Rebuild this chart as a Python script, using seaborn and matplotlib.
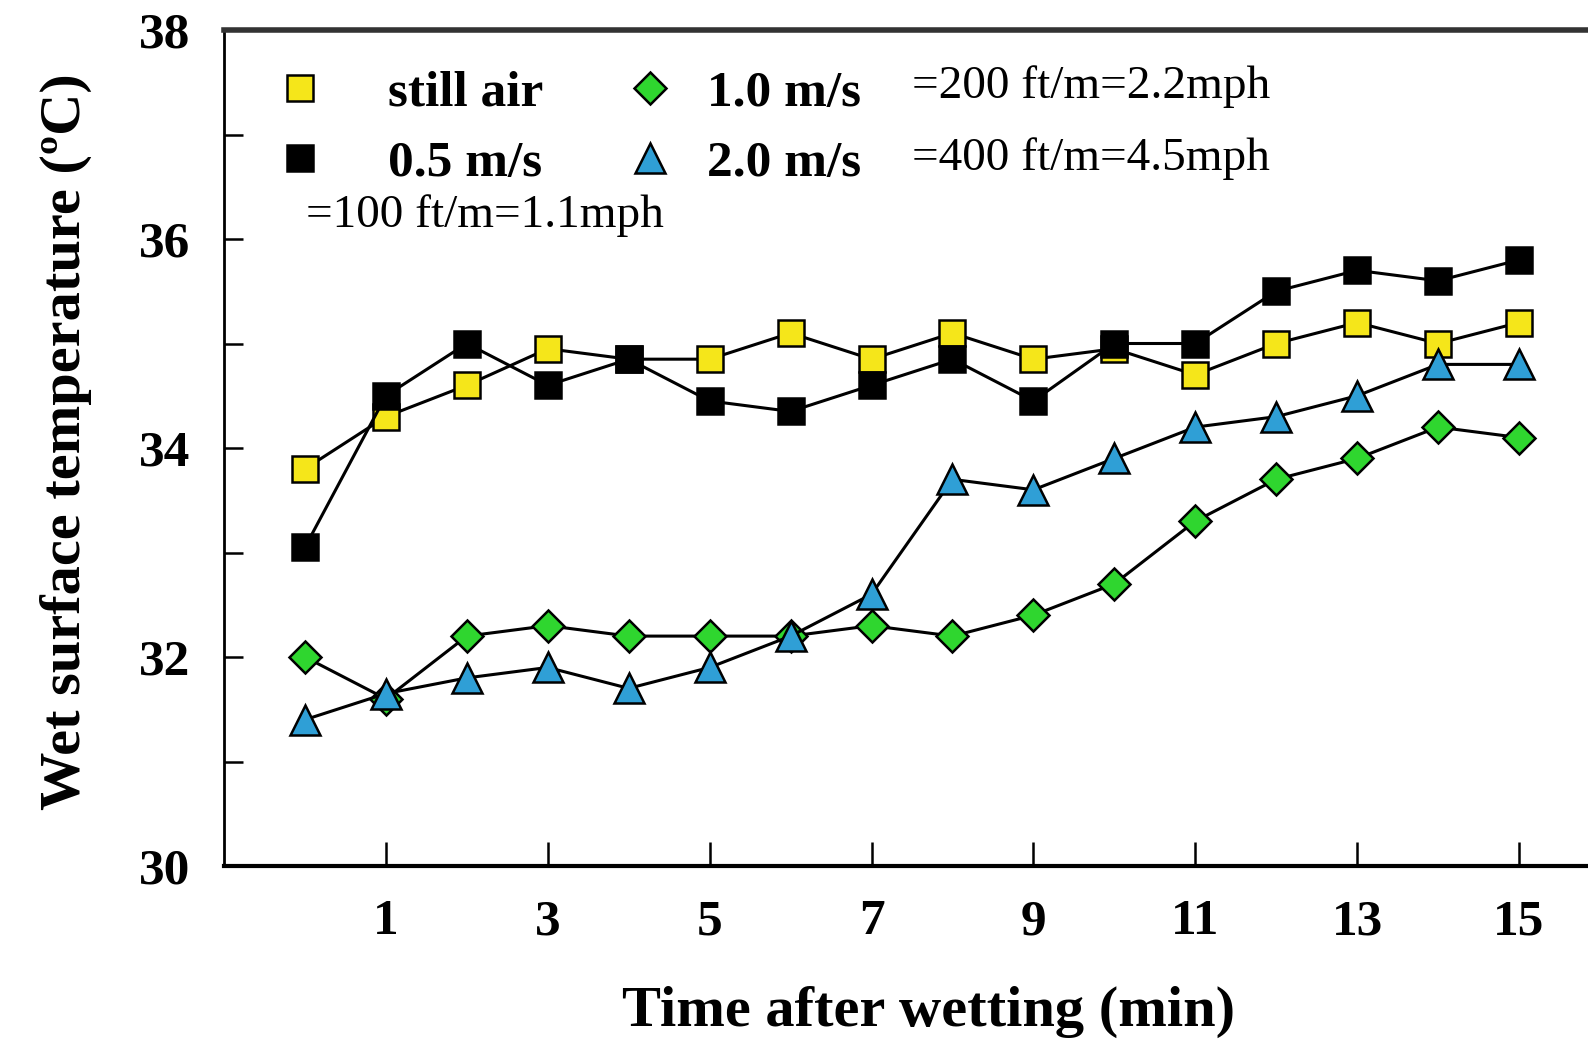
import matplotlib
matplotlib.use("Agg")
import matplotlib.pyplot as plt
import seaborn as sns
import numpy as np
from matplotlib.lines import Line2D
from matplotlib.ticker import MultipleLocator, FixedLocator

sns.set_style("white")
plt.rcParams['font.family'] = ['Liberation Serif', 'DejaVu Serif']
plt.rcParams['text.color'] = 'black'
plt.rcParams['axes.labelcolor'] = 'black'
plt.rcParams['xtick.color'] = 'black'
plt.rcParams['ytick.color'] = 'black'

time_min = list(range(16))
still_air = [33.8, 34.3, 34.6, 34.95, 34.85, 34.85, 35.1, 34.85, 35.1, 34.85, 34.95, 34.7, 35.0, 35.2, 35.0, 35.2]
v_05 = [33.05, 34.5, 35.0, 34.6, 34.85, 34.45, 34.35, 34.6, 34.85, 34.45, 35.0, 35.0, 35.5, 35.7, 35.6, 35.8]
v_10 = [32.0, 31.6, 32.2, 32.3, 32.2, 32.2, 32.2, 32.3, 32.2, 32.4, 32.7, 33.3, 33.7, 33.9, 34.2, 34.1]
v_20 = [31.4, 31.65, 31.8, 31.9, 31.7, 31.9, 32.2, 32.6, 33.7, 33.6, 33.9, 34.2, 34.3, 34.5, 34.8, 34.8]

labels = ["still air", "0.5 m/s", "1.0 m/s", "2.0 m/s"]
conv = ["=100 ft/m=1.1mph", "=200 ft/m=2.2mph", "=400 ft/m=4.5mph"]
xticks = [1, 3, 5, 7, 9, 11, 13, 15]
yticks = [30, 32, 34, 36, 38]

W, H = 1588, 1039
fig = plt.figure(figsize=(W / 100, H / 100), dpi=100)
left_px, right_px, top_px, bot_px = 224, 1600, 30, 866
ax = fig.add_axes([left_px / W, 1 - bot_px / H, (right_px - left_px) / W, (bot_px - top_px) / H])

styles = [
    (still_air, 's', '#f5e61a', 19),
    (v_05, 's', '#000000', 19),
    (v_10, 'D', '#2fd62f', 16),
    (v_20, '^', '#2f9fd6', 21),
]
for vals, mk, fc, ms in styles:
    sns.lineplot(x=time_min, y=vals, ax=ax, color='black', linewidth=2.2,
                 marker=mk, markersize=ms, markerfacecolor=fc,
                 markeredgecolor='black', markeredgewidth=1.8)

ax.set_xlim(-1, 16)
ax.set_ylim(30, 38)
ax.xaxis.set_major_locator(FixedLocator(xticks))
ax.yaxis.set_major_locator(FixedLocator(yticks))
ax.yaxis.set_minor_locator(MultipleLocator(1))
ax.tick_params(axis='both', which='both', direction='in', width=1.8,
               top=False, right=False, bottom=True, left=True)
ax.tick_params(axis='y', which='both', length=14)
ax.tick_params(axis='x', which='major', length=17)
ax.tick_params(axis='y', which='major', pad=24)
ax.tick_params(axis='x', which='major', pad=24)
ax.set_xticklabels([str(t) for t in xticks], fontsize=37, fontweight='bold')
ax.set_yticklabels([str(t) for t in yticks], fontsize=37, fontweight='bold')

ax.spines['left'].set_linewidth(2)
ax.spines['bottom'].set_linewidth(3)
ax.spines['top'].set_linewidth(4)
ax.spines['top'].set_color('#333333')
for s in ax.spines.values():
    s.set_visible(True)
    if s is not ax.spines['top']:
        s.set_color('black')

ax.set_xlabel("Time after wetting (min)", fontsize=42, fontweight='bold')
ax.xaxis.set_label_coords((929 - left_px) / (right_px - left_px), -(1012 - bot_px) / (bot_px - top_px))
ax.xaxis.label.set_va('center')
ax.set_ylabel("Wet surface temperature (ºC)", fontsize=42, fontweight='bold')
ax.yaxis.set_label_coords(-(left_px - 66) / (right_px - left_px), (bot_px - 442) / (bot_px - top_px))
ax.yaxis.label.set_va('center')

handles = []
for (vals, mk, fc, ms), lab in zip(styles, labels):
    handles.append(Line2D([], [], linestyle='none', marker=mk, markersize=ms,
                          markerfacecolor=fc, markeredgecolor='black', markeredgewidth=1.8, label=lab))

common = dict(frameon=False, prop={'size': 37, 'weight': 'bold'}, labelspacing=0.44,
              handlelength=1.0, borderpad=0, borderaxespad=0, loc='upper left')
leg1 = ax.legend(handles=handles[:2], bbox_to_anchor=(274 / W, 1 - 70 / H),
                 bbox_transform=fig.transFigure, handletextpad=1.22, **common)
ax.add_artist(leg1)
leg2 = ax.legend(handles=handles[2:], bbox_to_anchor=(624 / W, 1 - 70 / H),
                 bbox_transform=fig.transFigure, handletextpad=0.62, **common)


def place(txt, xpx, ypx):
    fig.text(xpx / W, 1 - ypx / H, txt, fontsize=34, va='center', ha='left')


place(conv[1], 912, 87)
place(conv[2], 912, 159)
place(conv[0], 306, 216)

fig.savefig("out.png", dpi=100)
